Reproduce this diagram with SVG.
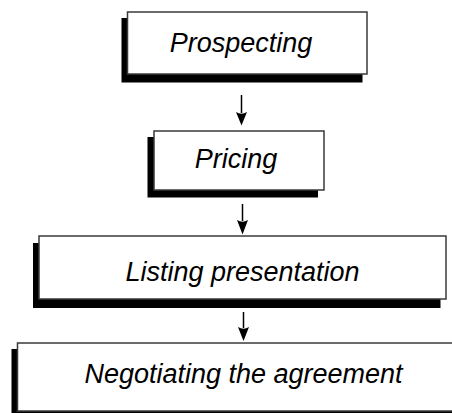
<svg xmlns="http://www.w3.org/2000/svg" width="452" height="413" viewBox="0 0 452 413">
  <style>
    .shadow { fill: #000; }
    .box { fill: #fff; stroke: #3a3a3a; stroke-width: 1.5; }
    .label { font-family: "Liberation Sans", Arial, sans-serif; font-style: italic; font-size: 27px; fill: #000; text-anchor: middle; }
    .conn { stroke: #000; stroke-width: 1.5; fill: none; }
    .head { fill: #000; }
  </style>
  <rect width="452" height="413" fill="#fff"/>
  <g id="connectors">
    <path class="conn" d="M241.5,95 V113"/>
    <path class="head" d="M236,112 Q241.5,115.5 247,112 L241.5,125.5 Z"/>
    <path class="conn" d="M242.5,204 V221"/>
    <path class="head" d="M237,220 Q242.5,223.5 248,220 L242.5,234.5 Z"/>
    <path class="conn" d="M243.5,312 V328"/>
    <path class="head" d="M238,327 Q243.5,330.5 249,327 L243.5,341 Z"/>
  </g>
  <g id="prospecting">
    <rect class="shadow" x="121.5" y="18" width="241" height="64.5"/>
    <rect class="box" x="127.5" y="12" width="239.5" height="62"/>
    <text class="label" x="241" y="52">Prospecting</text>
  </g>
  <g id="pricing">
    <rect class="shadow" x="147.5" y="137" width="170.5" height="60.5"/>
    <rect class="box" x="154" y="131" width="170" height="59"/>
    <text class="label" x="236" y="168">Pricing</text>
  </g>
  <g id="listing">
    <rect class="shadow" x="33" y="243" width="407.5" height="65"/>
    <rect class="box" x="39" y="236" width="407" height="63"/>
    <text class="label" x="242.5" y="281">Listing presentation</text>
  </g>
  <g id="negotiating">
    <rect class="shadow" x="11.5" y="349" width="450" height="70"/>
    <rect class="box" x="17.5" y="343" width="450" height="68"/>
    <text class="label" x="243.5" y="383">Negotiating the agreement</text>
  </g>
</svg>
